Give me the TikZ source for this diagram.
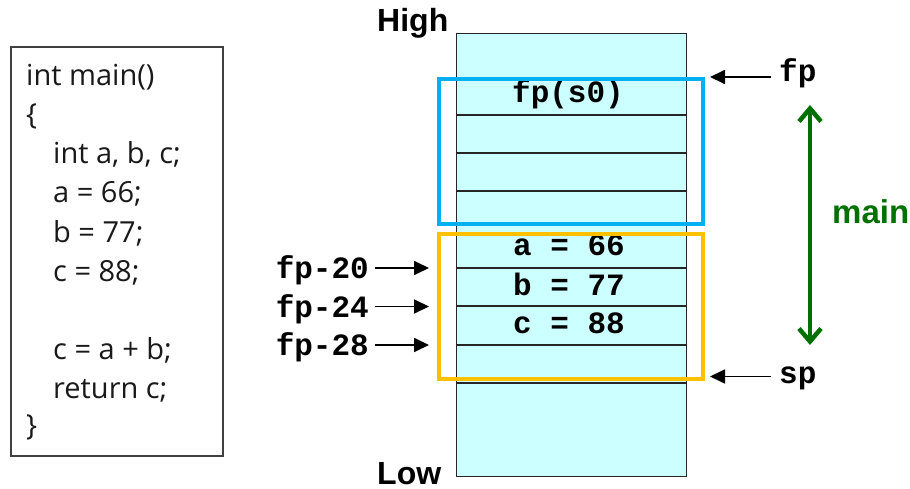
\documentclass[tikz,border=0pt]{standalone}
\usepackage{fontspec}
\setmainfont{Liberation Sans}
\newfontfamily\codefont{Open Sans}
\newfontfamily\monofont{Liberation Mono}
\usetikzlibrary{arrows.meta}
\definecolor{cellfill}{HTML}{CCFFFF}
\definecolor{frameblue}{HTML}{00B0F0}
\definecolor{framegold}{HTML}{FFC000}
\definecolor{darkgreen}{RGB}{0,112,0}
\definecolor{boxgray}{HTML}{404040}
\begin{document}
\begin{tikzpicture}[x=1pt,y=-1pt,
  codeline/.style={anchor=base west, inner sep=0pt, text=black!90,
    font=\codefont\fontsize{29}{30}\selectfont},
  cell/.style={anchor=base, inner sep=0pt,
    font=\monofont\bfseries\fontsize{31}{31}\selectfont},
  ptr/.style={inner sep=0pt, font=\monofont\bfseries\fontsize{31}{31}\selectfont},
  ptrarrow/.style={-{Triangle[length=15pt,width=14pt]}, line width=1.8pt},
  level/.style={anchor=base west, inner sep=0pt,
    font=\bfseries\fontsize{32}{32}\selectfont},
  frame/.style={line width=4pt, inner sep=0pt, anchor=north west}
]
\useasboundingbox (0,0) rectangle (910,489);

% source code listing
\node[draw=boxgray, line width=1.5pt, inner sep=0pt, anchor=north west,
      minimum width=212pt, minimum height=408.5pt] (code) at (10,46.5) {};
\node[codeline] (c1) at (26,86)  {int main()};
\node[codeline] (c2) at (26,125) {\{};
\node[codeline] (c3) at (53,164) {int a, b, c;};
\node[codeline] (c4) at (53,203) {a = 66;};
\node[codeline] (c5) at (53,242) {b = 77;};
\node[codeline] (c6) at (53,281) {c = 88;};
\node[codeline] (c7) at (53,359) {c = a + b;};
\node[codeline] (c8) at (53,398) {return c;};
\node[codeline] (c9) at (26,435) {\}};

% the stack
\node[draw=black!85, fill=cellfill, line width=1.3pt, inner sep=0pt,
      anchor=north west, minimum width=230.5pt, minimum height=443pt]
      (stack) at (455.5,33) {};
\foreach \y in {115,153,191,268,306,345,383}
  \draw[black!85, line width=1.3pt] (stack.west |- 0,\y) -- (stack.east |- 0,\y);

\node[cell] (s0)   at (568,103)   {fp(s0)};
\node[cell] (va)   at (569,255.5) {a = 66};
\node[cell] (vb)   at (569,295)   {b = 77};
\node[cell] (vc)   at (569,333.5) {c = 88};

% frames of the caller area and the locals
\node[frame, draw=frameblue, minimum width=264pt, minimum height=145.3pt]
      (callee) at (436.7,76.7) {};
\node[frame, draw=framegold, minimum width=264pt, minimum height=145.8pt]
      (locals) at (436.7,231.5) {};

% address bounds
\node[level] (high) at (377,32)  {High};
\node[level] (low)  at (377,484) {Low};

% offsets from fp
\node[ptr, anchor=base east] (f20) at (369,278.5) {fp-20};
\node[ptr, anchor=base east] (f24) at (369,317)   {fp-24};
\node[ptr, anchor=base east] (f28) at (369,355)   {fp-28};
\coordinate (t20) at (429,268);
\coordinate (t24) at (429,306.5);
\coordinate (t28) at (429,345);
\draw[ptrarrow] ([xshift=6pt]f20.east |- t20) -- (t20);
\draw[ptrarrow] ([xshift=6pt]f24.east |- t24) -- (t24);
\draw[ptrarrow] ([xshift=6pt]f28.east |- t28) -- (t28);

% frame and stack pointers
\node[ptr, anchor=base west] (fp) at (779,82)  {fp};
\node[ptr, anchor=base west] (sp) at (779,383) {sp};
\coordinate (fptip) at (710,77);
\coordinate (sptip) at (710,376.5);
\draw[ptrarrow] ([xshift=-8pt]fp.west |- fptip) -- (fptip);
\draw[ptrarrow] ([xshift=-8pt]sp.west |- sptip) -- (sptip);

% extent of main's frame
\coordinate (mtop) at (810,105);
\coordinate (mbot) at (810,345);
\draw[darkgreen, line width=4.5pt,
      {Straight Barb[length=13pt,width=22pt]}-{Straight Barb[length=13pt,width=22pt]}]
      (mtop) -- (mbot);
\node[anchor=base west, inner sep=0pt, text=darkgreen,
      font=\bfseries\fontsize{33}{33}\selectfont] (mainlbl) at (832,223) {main};
\end{tikzpicture}
\end{document}
